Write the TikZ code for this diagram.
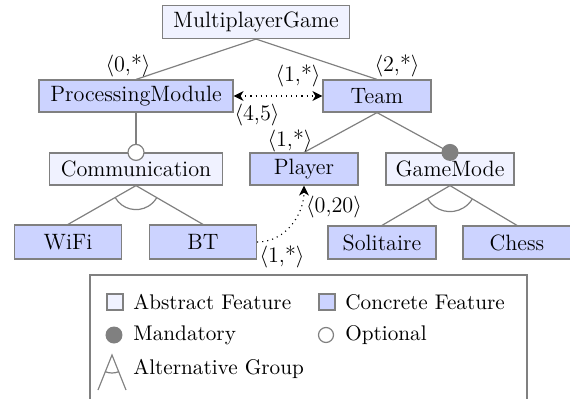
\documentclass[tikz,border=0pt]{standalone}
\usetikzlibrary{arrows.meta}
\definecolor{absfill}{RGB}{240,242,255}
\definecolor{confill}{RGB}{204,211,255}
\definecolor{edgegray}{RGB}{128,128,128}
\begin{document}
\begin{tikzpicture}[x=0.5pt,y=-0.5pt,
  font=\fontsize{11.1}{13}\selectfont,
  feat/.style={draw=edgegray, line width=0.6pt, minimum height=16pt, inner sep=0pt},
  absfeat/.style={feat, fill=absfill},
  confeat/.style={feat, fill=confill},
  edge/.style={draw=edgegray, line width=0.6pt},
  card/.style={inner sep=0pt},
  tip/.tip={Stealth[length=5pt,width=5pt,inset=1.5pt]},
  link/.style={line width=0.55pt, dash pattern=on 0.55pt off 2pt},
  optc/.style={circle, draw=edgegray, line width=0.6pt, fill=white, minimum size=8pt, inner sep=0pt},
  mandc/.style={circle, fill=edgegray, minimum size=8.5pt, inner sep=0pt},
  legtext/.style={anchor=west, inner sep=0pt, font=\fontsize{10.6}{13}\selectfont}
]
\useasboundingbox (0,0) rectangle (570,398);
\clip (0,0) rectangle (570,398);

% features
\node[absfeat, minimum width=93.5pt, minimum height=16.5pt] (mg) at (256,22) {MultiplayerGame};
\node[confeat, minimum width=97pt] (pm) at (136,96) {ProcessingModule};
\node[confeat, minimum width=54pt] (team) at (377,96) {Team};
\node[absfeat, minimum width=86.5pt] (comm) at (136,169) {Communication};
\node[confeat, minimum width=54pt] (player) at (304,169) {Player};
\node[absfeat, minimum width=64pt] (gm) at (450,169) {GameMode};
\node[confeat, minimum width=53.5pt, minimum height=17pt] (wifi) at (68,242) {WiFi};
\node[confeat, minimum width=53.5pt, minimum height=17pt] (bt) at (203,242) {BT};
\node[confeat, minimum width=54pt, minimum height=16.5pt] (sol) at (382,242.5) {Solitaire};
\node[confeat, minimum width=54pt, minimum height=16.5pt] (chess) at (517,242.5) {Chess};

% tree edges
\draw[edge] (mg.south) -- (pm.north);
\draw[edge] (mg.south) -- (team.north);
\draw[edge] (pm.south) -- (comm.north);
\draw[edge] (team.south) -- (player.north);
\draw[edge] (team.south) -- (gm.north);
\draw[edge] (comm.south) -- (wifi.north);
\draw[edge] (comm.south) -- (bt.north);
\draw[edge] (gm.south) -- (sol.north);
\draw[edge] (gm.south) -- (chess.north);

% alternative group arcs
\draw[edge] (comm.south) ++(149.5:24) arc[start angle=149.5, end angle=30.8, radius=24];
\draw[edge] (gm.south) ++(148.9:26) arc[start angle=148.9, end angle=31.5, radius=26];

% optional / mandatory markers
\node[optc] (optm) at (comm.north) {};
\node[mandc] (mandm) at (gm.north) {};

% cross-tree links
\draw[link, tip-tip] (pm.east) -- (team.west);
\draw[link, -tip] (bt.east) .. controls (286,242) and (304,214) .. (player.south);

% cardinalities
\node[card] (c1) at (128,66) {$\langle$0,*$\rangle$};
\node[card] (c2) at (397,66) {$\langle$2,*$\rangle$};
\node[card] (c3) at (298,76) {$\langle$1,*$\rangle$};
\node[card] (c4) at (257,115) {$\langle$4,5$\rangle$};
\node[card] (c5) at (290,141) {$\langle$1,*$\rangle$};
\node[card] (c6) at (334,207) {$\langle$0,20$\rangle$};
\node[card] (c7) at (282,257) {$\langle$1,*$\rangle$};

% legend
\draw[edge] (90,275) rectangle (527,420);
\node[absfeat, minimum width=8pt, minimum height=8pt] (la) at (115,302) {};
\node[legtext] (lat) at (133,302) {Abstract Feature};
\node[confeat, minimum width=8pt, minimum height=8pt] (lc) at (327,302) {};
\node[legtext] (lct) at (345,302) {Concrete Feature};
\node[mandc] (lm) at (114,335) {};
\node[legtext] (lmt) at (133,335) {Mandatory};
\node[optc, minimum size=7.5pt] (lo) at (326,335) {};
\node[legtext] (lot) at (345,335) {Optional};
\coordinate (ga) at (112,355);
\draw[edge] (98,390) -- (ga) -- (126,390);
\draw[edge] (ga) ++(113:18) arc[start angle=113, end angle=67, radius=18];
\node[legtext] (lgt) at (133,369) {Alternative Group};
\end{tikzpicture}
\end{document}
